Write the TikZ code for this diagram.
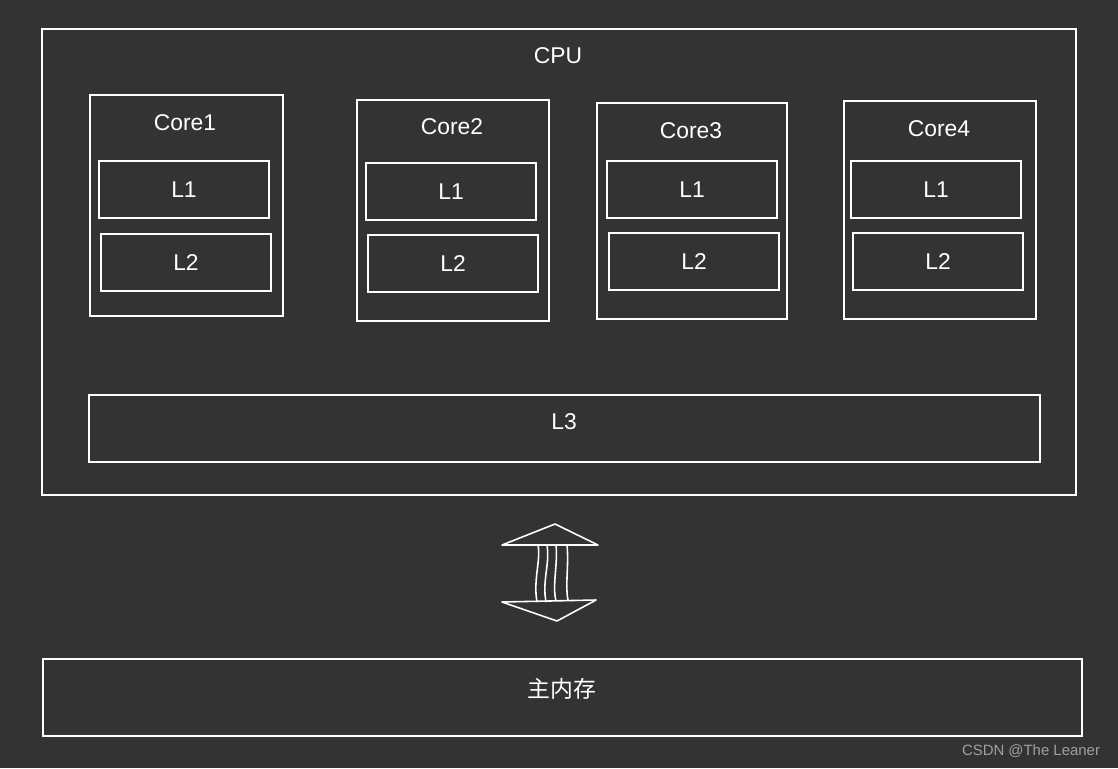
\documentclass[tikz,border=0pt]{standalone}
\usepackage{fontspec}
\setmainfont{Liberation Sans}
\newfontfamily\cjkfont{Noto Sans CJK SC}
\usetikzlibrary{positioning}
\definecolor{board}{HTML}{333333}
\definecolor{wmark}{HTML}{A0A0A0}

\begin{document}
\begin{tikzpicture}[x=0.02cm,y=-0.02cm,
  box/.style={draw=white,line width=1pt,inner sep=0pt},
  lbl/.style={text=white,font=\fontsize{13}{15}\selectfont,inner sep=0pt},
  cache/.style={box,lbl,minimum width=3.4cm,minimum height=1.14cm},
  wave/.style={draw=white,line width=0.9pt}]
\fill[board](0,0)rectangle(1118,768);
\useasboundingbox(0,0)rectangle(1118,768);
% cpu
\node[box,minimum width=20.68cm,minimum height=9.32cm](cpu)at(559,262){};
\node[lbl](cputxt)at(558,56){CPU};
% cores
\node[box,minimum width=3.86cm,minimum height=4.42cm](core1)at(186.5,205.5){};
\node[lbl](core1txt)at(185,123){Core1};
\node[cache](l1a)at(184,189.5){L1};
\node[cache](l2a)at(186,262.5){L2};
\node[box,minimum width=3.84cm,minimum height=4.42cm](core2)at(453,210.5){};
\node[lbl](core2txt)at(452,127){Core2};
\node[cache](l1b)at(451,191.5){L1};
\node[cache](l2b)at(453,263.5){L2};
\node[box,minimum width=3.8cm,minimum height=4.32cm](core3)at(692,211){};
\node[lbl](core3txt)at(691,131){Core3};
\node[cache](l1c)at(692,189.5){L1};
\node[cache](l2c)at(694,261.5){L2};
\node[box,minimum width=3.84cm,minimum height=4.36cm](core4)at(940,210){};
\node[lbl](core4txt)at(939,129){Core4};
\node[cache](l1d)at(936,189.5){L1};
\node[cache](l2d)at(938,261.5){L2};
% l3
\node[box,minimum width=19.02cm,minimum height=1.34cm](l3)at(564.5,428.5){};
\node[lbl](l3txt)at(564,422){L3};
% main memory
\node[box,minimum width=20.78cm,minimum height=1.54cm](mem)at(562.5,697.5){};
\node[lbl](memtxt)at(562,689){\cjkfont 主内存};
% arrow
\coordinate(up)at(555,524);
\coordinate(dn)at(557,621);
\draw[wave,line join=round](502,545)--(up)--(598,545)--cycle;
\draw[wave,line join=round](502,602)--(dn)--(596,600)--cycle;
\draw[wave](538,545)..controls(541,560)and(533,580)..(537,602);
\draw[wave](547,545)..controls(550,565)and(542,580)..(546,602);
\draw[wave](556,545)..controls(558,565)and(552,585)..(556,601);
\draw[wave](567,545)..controls(569,565)and(565,585)..(568,600);
% watermark
\node[text=wmark,font=\fontsize{8.5}{10}\selectfont,inner sep=0pt](wm)at(1031,751){CSDN @The Leaner};
\end{tikzpicture}
\end{document}
